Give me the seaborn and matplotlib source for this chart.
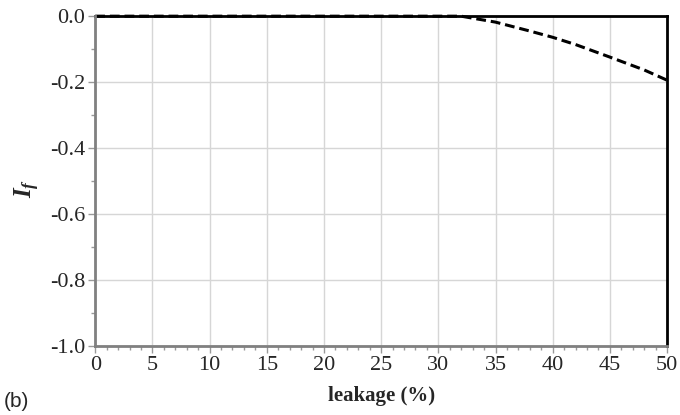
import numpy as np
import pandas as pd
import matplotlib.pyplot as plt
import seaborn as sns
from matplotlib.ticker import MultipleLocator

leakage = [0, 5, 10, 15, 20, 25, 30, 32, 35, 38, 40, 42, 45, 48, 50]
i_f = [0, 0, 0, 0, 0, 0, 0, 0, -0.018, -0.045, -0.064, -0.086, -0.124, -0.163, -0.194]

df = pd.DataFrame({'leakage': leakage, 'If': i_f})

sns.set_style('white')
plt.rcParams['font.family'] = ['Liberation Serif', 'DejaVu Serif']
plt.rcParams['mathtext.fontset'] = 'custom'
plt.rcParams['mathtext.it'] = 'Liberation Serif:italic:bold'
plt.rcParams['mathtext.rm'] = 'Liberation Serif:bold'

fig, ax = plt.subplots(figsize=(6.8, 4.15), dpi=100)
fig.subplots_adjust(left=0.14, right=0.981, top=0.961, bottom=0.166)

sns.lineplot(data=df, x='leakage', y='If', ax=ax, color='black', lw=2.2,
             linestyle=(0, (3.2, 1.6)), clip_on=False, zorder=5)

ax.set_xlim(0, 50)
ax.set_ylim(-1.0, 0.0)
ax.xaxis.set_major_locator(MultipleLocator(5))
ax.xaxis.set_minor_locator(MultipleLocator(1))
ax.yaxis.set_major_locator(MultipleLocator(0.2))
ax.yaxis.set_minor_locator(MultipleLocator(0.1))
ax.yaxis.set_major_formatter(plt.FuncFormatter(lambda v, p: '%.1f' % v))
ax.grid(True, which='major', color='#d6d6d6', lw=1)

for s in ['top', 'right']:
    ax.spines[s].set_color('black')
    ax.spines[s].set_linewidth(2)
for s in ['left', 'bottom']:
    ax.spines[s].set_color('#808080')
    ax.spines[s].set_linewidth(2)
    ax.spines[s].set_zorder(6)

ax.tick_params(which='major', direction='out', length=5, width=1, color='#999999',
               labelsize=16, pad=2, left=True, bottom=True)
ax.tick_params(which='minor', direction='out', length=3, width=1, color='#999999',
               left=True, bottom=True)

ax.set_xlabel('leakage (%)', fontsize=15, fontweight='bold', labelpad=8)
ax.set_ylabel('')
fig.text(0.04, 0.545, r'$I_f$', fontsize=18, rotation=90, ha='center', va='center')
fig.text(0.005, 0.02, '(b)', fontsize=15, family=['Liberation Sans', 'DejaVu Sans'])

fig.savefig('out.png')
